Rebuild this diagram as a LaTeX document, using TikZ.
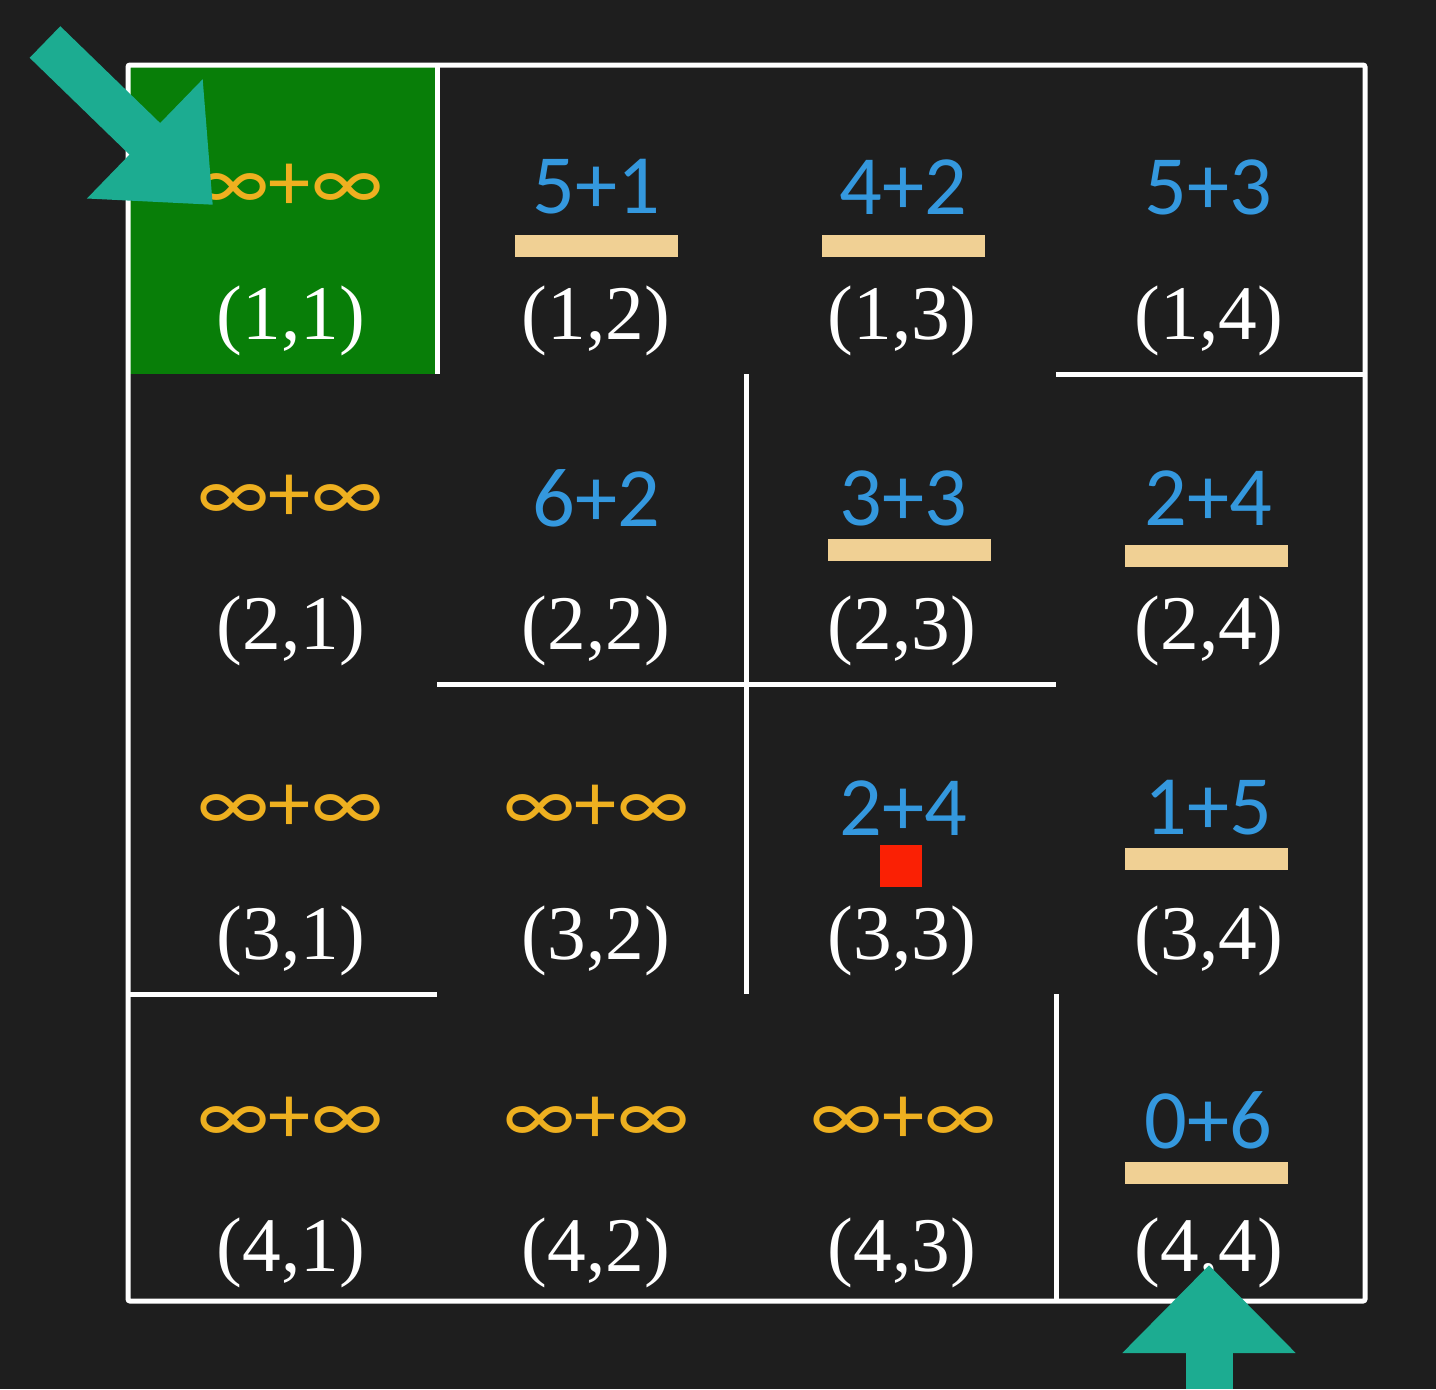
\documentclass[tikz,border=0pt]{standalone}
\usepackage{fontspec}
\setmainfont{Liberation Serif}
\newfontfamily\numfont{Carlito}
\usetikzlibrary{arrows.meta}
\definecolor{board}{RGB}{30,30,30}
\definecolor{start}{RGB}{8,126,8}
\definecolor{known}{RGB}{52,152,222}
\definecolor{unknown}{RGB}{238,176,32}
\definecolor{done}{RGB}{240,208,148}
\definecolor{here}{RGB}{250,32,4}
\definecolor{pointer}{RGB}{28,172,145}
\tikzset{wall/.style={draw=white, line width=0.5mm}, cost/.style={text=known, font=\numfont\fontsize{24}{27}\selectfont}, inf/.style={text=unknown, font=\numfont\fontsize{24}{27}\selectfont}, cellname/.style={text=white, font=\fontsize{22}{25}\selectfont}, closed/.style={fill=done, minimum width=16.3mm, minimum height=2.2mm, inner sep=0pt}, current/.style={fill=here, minimum size=4.2mm, inner sep=0pt}, arrowin/.style={draw=pointer, line width=4.4mm, -{Triangle[length=9.5mm, width=16mm]}}, arrowout/.style={draw=pointer, line width=4.7mm, -{Triangle[length=8.8mm, width=16.8mm]}},}

\begin{document}
\begin{tikzpicture}[x=0.1mm, y=-0.1mm]
        \fill[board] (0,0) rectangle (1436,1389);
        \useasboundingbox (0,0) rectangle (1436,1389);
        \fill[start] (128,65) rectangle (437,374);

        % walls
        \draw[wall, rounded corners=0.2mm] (128,65) rectangle (1365,1301);
        \draw[wall] (437,65) -- (437,374);
        \draw[wall] (1056,374) -- (1365,374);
        \draw[wall] (746,374) -- (746,994);
        \draw[wall] (437,684) -- (1056,684);
        \draw[wall] (128,994) -- (437,994);
        \draw[wall] (1056,994) -- (1056,1301);

        \node[inf] at (290,187) (v11) {∞+∞};
        \node[cost] at (596,187) (v12) {5+1};
        \node[cost] at (903,187) (v13) {4+2};
        \node[cost] at (1208,187) (v14) {5+3};
        \node[inf] at (290,498) (v21) {∞+∞};
        \node[cost] at (596,498) (v22) {6+2};
        \node[cost] at (903,498) (v23) {3+3};
        \node[cost] at (1208,498) (v24) {2+4};
        \node[inf] at (290,808) (v31) {∞+∞};
        \node[inf] at (596,808) (v32) {∞+∞};
        \node[cost] at (903,808) (v33) {2+4};
        \node[cost] at (1208,808) (v34) {1+5};
        \node[inf] at (290,1120) (v41) {∞+∞};
        \node[inf] at (596,1120) (v42) {∞+∞};
        \node[inf] at (903,1120) (v43) {∞+∞};
        \node[cost] at (1208,1120) (v44) {0+6};

        \node[cellname] at (291,321) (p11) {(1,1)};
        \node[cellname] at (596,321) (p12) {(1,2)};
        \node[cellname] at (902,321) (p13) {(1,3)};
        \node[cellname] at (1209,321) (p14) {(1,4)};
        \node[cellname] at (291,631) (p21) {(2,1)};
        \node[cellname] at (596,631) (p22) {(2,2)};
        \node[cellname] at (902,631) (p23) {(2,3)};
        \node[cellname] at (1209,631) (p24) {(2,4)};
        \node[cellname] at (291,941) (p31) {(3,1)};
        \node[cellname] at (596,941) (p32) {(3,2)};
        \node[cellname] at (902,941) (p33) {(3,3)};
        \node[cellname] at (1209,941) (p34) {(3,4)};
        \node[cellname] at (291,1253) (p41) {(4,1)};
        \node[cellname] at (596,1253) (p42) {(4,2)};
        \node[cellname] at (902,1253) (p43) {(4,3)};
        \node[cellname] at (1209,1253) (p44) {(4,4)};

        \node[closed] at (596,246) (b12) {};
        \node[closed] at (903,246) (b13) {};
        \node[closed] at (909,550) (b23) {};
        \node[closed] at (1206,556) (b24) {};
        \node[closed] at (1206,859) (b34) {};
        \node[closed] at (1206,1173) (b44) {};
        \node[current] at (901,866) (now) {};

        \coordinate (in) at (45,42);
        \coordinate (intip) at (213,205);
        \coordinate (out) at (1209,1389);
        \coordinate (outtip) at (1209,1265);
        \draw[arrowin] (in) -- (intip);
        \draw[arrowout] (out) -- (outtip);
    \end{tikzpicture}
\end{document}
